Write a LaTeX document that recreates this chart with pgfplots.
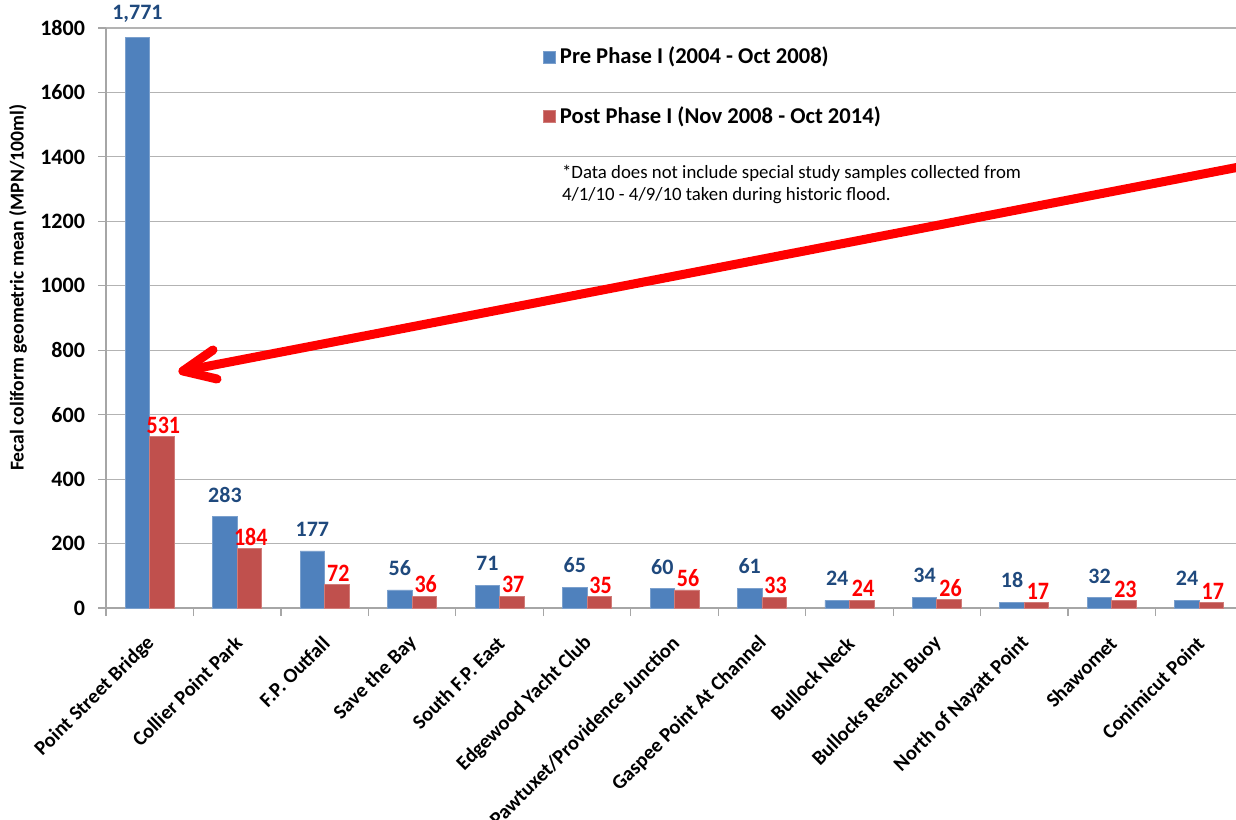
\documentclass[border=0pt]{standalone}
\usepackage{graphicx}
\usepackage{pgfplots}
\pgfplotsset{compat=1.18}
\usepackage{pgfplotstable}
\usepackage{fontspec}
\setmainfont{Carlito}

\definecolor{preblue}{HTML}{4F81BD}
\definecolor{postred}{HTML}{C0504D}
\definecolor{prelab}{HTML}{1F497D}
\definecolor{postlab}{HTML}{FF0000}
\definecolor{gridgray}{HTML}{B3B3B3}
\definecolor{axisgray}{HTML}{A6A6A6}

% Fecal coliform geometric mean by station (MPN/100ml)
\pgfplotstableread{
idx pre  post
0   1771 531
1   283  184
2   177  72
3   56   36
4   71   37
5   65   35
6   60   56
7   61   33
8   24   24
9   34   26
10  18   17
11  32   23
12  24   17
}\stations

\pgfplotsset{/pgf/number format/assume math mode=true}

\begin{document}
\begin{tikzpicture}
\begin{axis}[
  at={(53pt,105.5pt)}, anchor=south west,
  scale only axis, width=568.5pt, height=290pt,
  xmin=-0.5, xmax=12.5, ymin=0, ymax=1800,
  axis x line*=bottom, axis y line*=left,
  axis line style={draw=axisgray, line width=0.7pt},
  tick style={draw=axisgray, line width=0.6pt},
  tick align=outside, major tick length=4pt,
  xtick={-0.5,0.5,...,12.5},
  x tick label as interval,
  xticklabels={Point Street Bridge, Collier Point Park, F.P. Outfall, Save the Bay, South F.P. East, Edgewood Yacht Club, Pawtuxet/Providence Junction, Gaspee Point At Channel, Bullock Neck, Bullocks Reach Buoy, North of Nayatt Point, Shawomet, Conimicut Point},
  xticklabel style={rotate=45, anchor=east, font=\fontsize{10.2}{12}\selectfont\bfseries, xshift=-4.5pt, yshift=-9pt},
  ytick={0,200,...,1800},
  yticklabel style={font=\fontsize{11}{12}\selectfont\bfseries, /pgf/number format/1000 sep={}, xshift=-3pt},
  ymajorgrids, grid style={draw=gridgray, line width=0.6pt},
  ylabel={Fecal coliform geometric mean (MPN/100ml)},
  ylabel style={font=\fontsize{9.8}{11}\selectfont\bfseries, at={(axis description cs:-0.0774,0.552)}, anchor=center},
  clip=false,
  legend style={at={(axis cs:4.494,1617)}, anchor=west, draw=none, fill=none,
    inner sep=0pt, row sep=16pt, font=\fontsize{11.3}{13}\selectfont\bfseries},
  legend cell align=left,
  legend image code/.code={\fill[#1] (0pt,-3pt) rectangle (6pt,3pt);},
]
\addplot[ybar, bar width=12.25pt, bar shift=-6.125pt, fill=preblue, draw=preblue!75!white, line width=0.4pt,
  /pgf/number format/1000 sep={,},
  nodes near coords,
  every node near coord/.append style={anchor=south, inner sep=0pt, xshift=-6.125pt, yshift=7pt, text=prelab,
    font=\fontsize{11}{12}\selectfont\bfseries}]
  table[x=idx, y=pre] {\stations};
\addlegendentry{Pre Phase I (2004 - Oct 2008)}
\addplot[ybar, bar width=12.25pt, bar shift=6.125pt, fill=postred, draw=postred!75!white, line width=0.4pt,
  nodes near coords={\scalebox{0.88}[1]{\pgfmathprintnumber{\pgfplotspointmeta}}},
  every node near coord/.append style={anchor=south, inner sep=0pt, xshift=6.8pt, yshift=1.5pt, text=postlab,
    font=\fontsize{12.5}{13}\selectfont\bfseries}]
  table[x=idx, y=post] {\stations};
\addlegendentry{Post Phase I (Nov 2008 - Oct 2014)}
\node[anchor=north west, align=left, inner sep=0pt, font=\fontsize{9.4}{11}\selectfont]
  at (axis cs:4.71,1375) {*Data does not include special study samples collected from\\4/1/10 - 4/9/10 taken during historic flood.};
\end{axis}
% arrow pointing at the Point Street Bridge bars
\draw[postlab, line width=4.5pt, line cap=round, line join=round]
  (106.5pt,234.5pt) -- (91.5pt,224pt) -- (108.5pt,220pt);
\draw[postlab, line width=4.5pt, line cap=round] (91.5pt,224pt) -- (630pt,328pt);
\pgfresetboundingbox
\useasboundingbox (0,0) rectangle (618pt,409.5pt);
\end{tikzpicture}
\end{document}
